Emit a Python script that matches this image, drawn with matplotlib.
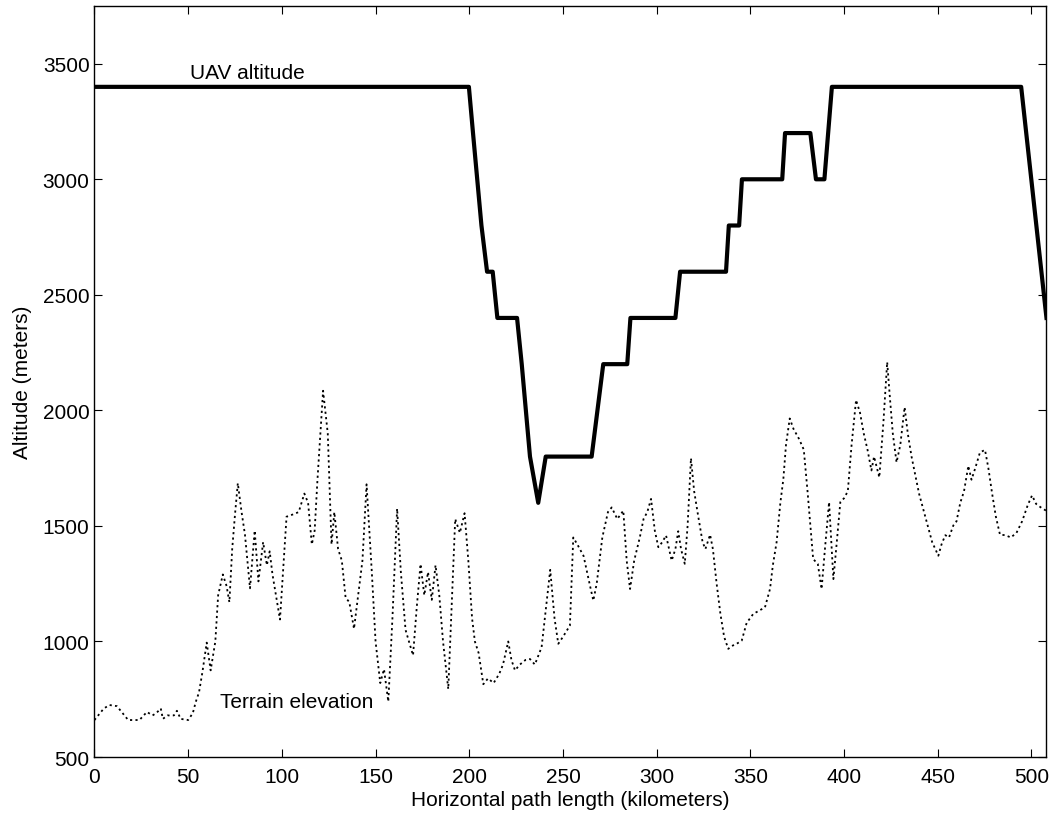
import matplotlib
matplotlib.use("Agg")
import matplotlib.pyplot as plt

plt.rcParams['font.family'] = ['Liberation Sans', 'DejaVu Sans']

# UAV flight profile (km, m)
uav_km = [0, 199.8, 202, 206.5, 209.5, 212.5, 215, 225.5, 228, 232.4, 236.8, 240.8,
          265.3, 271.5, 284.3, 286, 310, 312.5, 337, 338.5, 344, 345.5, 367, 368.5,
          382, 385, 389.5, 393.5, 494.5, 508]
uav_alt = [3400, 3400, 3200, 2800, 2600, 2600, 2400, 2400, 2200, 1800, 1600, 1800,
           1800, 2200, 2200, 2400, 2400, 2600, 2600, 2800, 2800, 3000, 3000, 3200,
           3200, 3000, 3000, 3400, 3400, 2400]

# terrain profile (km, m)
terrain_km = [0, 2, 5, 8, 12, 15, 18, 21, 24, 28, 31, 33, 35.4, 36.5, 39, 42.4, 44, 46, 50,
              52.5, 54, 55.8, 57.6, 59.9, 62, 64.5, 66, 68.5, 70.5, 72, 73.5, 75, 76.5,
              78.5, 80.3, 83, 85.5, 87.5, 90, 92, 93.5, 95, 99, 102.5, 106, 109, 112, 114,
              116, 117.5, 119, 122, 124.5, 126.5, 128, 130, 132, 134, 136, 138.5, 143,
              145.2, 148, 150, 152.5, 154.5, 156.8, 159, 161.5, 163.5, 166, 170, 172, 174,
              176, 178, 180, 182, 184, 186, 188.8, 192.5, 195, 197.5, 199.5, 201.5, 203,
              205, 207.5, 210, 213, 216, 218, 220.8, 222.5, 224.4, 227, 230, 232.4, 235,
              238.6, 241, 243.2, 245.5, 247.5, 250, 253.7, 255.5, 258, 261, 264.4, 266.2,
              268, 271, 274, 276, 279, 282.2, 284, 285.8, 288, 291, 293, 295, 297, 299,
              300.9, 303, 305, 308, 310, 311.5, 313, 315, 316.5, 318.3, 320, 322, 324.5,
              326, 328.5, 330, 332, 334, 336, 338.2, 340, 342.7, 345.4, 348, 351.6, 354,
              357.8, 360.5, 362, 364, 366, 367.6, 369, 371, 373, 376, 378.5, 380.5, 383.5,
              386, 388, 390, 392, 394.3, 396, 398, 400, 402, 404, 406.4, 408.5, 410.5,
              412.5, 414.6, 416, 418.8, 421, 423, 424.5, 426, 428, 430, 432.3, 434, 436,
              440, 444, 447, 450.3, 452, 454, 456, 458.3, 460, 462, 464, 466.3, 468, 470,
              472.5, 475.2, 477, 479, 481, 483.2, 486, 489, 492, 495, 498, 500.3, 502.5,
              505, 508]
terrain_alt = [660, 680, 710, 725, 720, 690, 660, 660, 660, 695, 680, 690, 710, 665, 680,
               680, 700, 665, 660, 690, 737, 780, 867, 995, 875, 1000, 1200, 1290, 1240,
               1170, 1400, 1550, 1685, 1560, 1463, 1230, 1480, 1260, 1430, 1330, 1390,
               1290, 1095, 1540, 1550, 1560, 1640, 1600, 1420, 1480, 1700, 2085, 1900,
               1420, 1560, 1400, 1350, 1190, 1170, 1055, 1350, 1680, 1300, 1000, 820, 880,
               740, 1100, 1575, 1300, 1050, 940, 1150, 1335, 1200, 1300, 1180, 1330, 1200,
               1000, 794, 1530, 1470, 1555, 1350, 1100, 1000, 950, 815, 840, 820, 860, 900,
               1000, 920, 875, 900, 920, 924, 900, 975, 1150, 1310, 1100, 990, 1020, 1069,
               1450, 1415, 1370, 1242, 1177, 1250, 1450, 1560, 1580, 1530, 1566, 1350,
               1227, 1350, 1450, 1530, 1560, 1617, 1480, 1408, 1430, 1459, 1350, 1400,
               1477, 1400, 1336, 1500, 1793, 1650, 1550, 1430, 1400, 1462, 1400, 1250,
               1120, 1020, 968, 980, 990, 1004, 1080, 1120, 1130, 1148, 1228, 1330, 1430,
               1600, 1703, 1850, 1965, 1920, 1876, 1830, 1650, 1357, 1335, 1227, 1420,
               1603, 1270, 1420, 1603, 1620, 1650, 1850, 2045, 1990, 1900, 1830, 1740,
               1800, 1710, 1950, 2209, 2050, 1900, 1775, 1850, 2014, 1900, 1800, 1640,
               1520, 1430, 1371, 1420, 1460, 1450, 1502, 1520, 1600, 1650, 1760, 1700,
               1750, 1818, 1829, 1750, 1640, 1540, 1462, 1460, 1450, 1470, 1520, 1590,
               1632, 1595, 1580, 1565]

fig = plt.figure(figsize=(10.53, 8.2), dpi=100)
ax = fig.add_axes([0.0897, 0.0756, 0.9041, 0.9159])

ax.plot(uav_km, uav_alt, color='black', linewidth=3.0, solid_joinstyle='round')
ax.plot(terrain_km, terrain_alt, color='black', linewidth=1.3, linestyle=(0, (1.2, 1.8)))

ax.text(51, 3460, 'UAV altitude', fontsize=15, va='center', ha='left')
ax.text(67, 740, 'Terrain elevation', fontsize=15, va='center', ha='left')

ax.set_xlim(0, 508)
ax.set_ylim(500, 3750)
ax.set_xticks(range(0, 501, 50))
ax.set_yticks(range(500, 3501, 500))
ax.tick_params(direction='in', top=True, right=True, length=6, width=0.8, labelsize=15)
ax.tick_params(axis='x', pad=7)
for s in ax.spines.values():
    s.set_linewidth(1.0)

ax.set_xlabel('Horizontal path length (kilometers)', fontsize=15, labelpad=3)
ax.set_ylabel('Altitude (meters)', fontsize=15, labelpad=8)

fig.savefig('out.png', dpi=100)
